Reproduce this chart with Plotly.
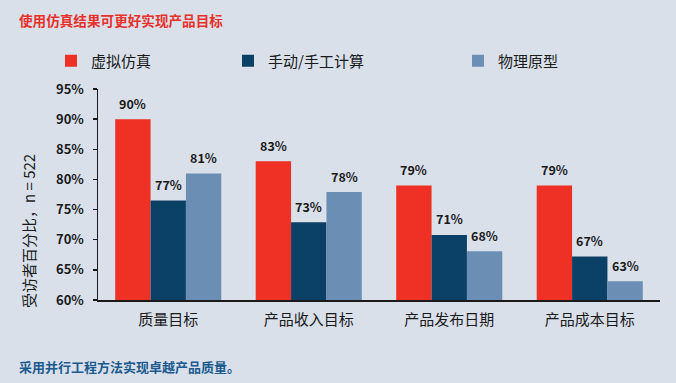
import plotly.graph_objects as go

categories = ["质量目标", "产品收入目标", "产品发布日期", "产品成本目标"]
series_names = ["虚拟仿真", "手动/手工计算", "物理原型"]
virtual_sim = [90, 83, 79, 79]
manual_calc = [76.5, 72.9, 70.8, 67.2]
physical_proto = [81, 77.9, 68.1, 63.1]
virtual_labels = ["90%", "83%", "79%", "79%"]
manual_labels = ["77%", "73%", "71%", "67%"]
physical_labels = ["81%", "78%", "68%", "63%"]
y_ticks = [60, 65, 70, 75, 80, 85, 90, 95]
y_tick_text = ["60%", "65%", "70%", "75%", "80%", "85%", "90%", "95%"]

colors = ["#ee3124", "#0c4167", "#6b8eb5"]
bg = "#d9e0ea"
font_family = "Noto Sans CJK SC"

W, H = 676, 383
ML, MR, MT, MB = 98, 16, 89, 83
PW = W - ML - MR
PH = H - MT - MB


def px_x(px):
    return (px - ML) / PW


def px_y(py):
    return (H - MB - py) / PH


series_values = [virtual_sim, manual_calc, physical_proto]
series_labels = [virtual_labels, manual_labels, physical_labels]

fig = go.Figure()
legend_ids = ["legend", "legend2", "legend3"]
for i, (name, vals) in enumerate(zip(series_names, series_values)):
    fig.add_trace(go.Bar(
        x=categories, y=vals, name=name,
        marker=dict(color=colors[i], line=dict(width=0)),
        legend=legend_ids[i],
        hoverinfo="skip",
    ))

annotations = []
bar_w = PW / len(categories) * 0.755 / 3
for i, labels in enumerate(series_labels):
    for c, v, t in zip(categories, series_values[i], labels):
        annotations.append(dict(
            x=c, y=v, xref="x", yref="y", text=t, showarrow=False,
            xshift=(i - 1) * bar_w, yshift=16, yanchor="middle",
            font=dict(family=font_family, size=12.5, color="#1a1a1a", weight="bold"),
        ))

annotations.append(dict(
    x=px_x(17), y=px_y(20), xref="paper", yref="paper", xanchor="left", yanchor="middle",
    text="<b>使用仿真结果可更好实现产品目标</b>", showarrow=False,
    font=dict(family=font_family, size=13.6, color="#e8302a"),
))
annotations.append(dict(
    x=px_x(17), y=px_y(366), xref="paper", yref="paper", xanchor="left", yanchor="middle",
    text="<b>采用并行工程方法实现卓越产品质量。</b>", showarrow=False,
    font=dict(family=font_family, size=13, color="#1b5a8e"),
))
annotations.append(dict(
    x=px_x(28), y=px_y(231), xref="paper", yref="paper", xanchor="center", yanchor="middle",
    text="受访者百分比，n = 522", textangle=-90, showarrow=False,
    font=dict(family=font_family, size=15, color="#1a1a1a"),
))

legend_text_x = [91, 268, 498]
legend_common = dict(
    orientation="h", yanchor="middle", xanchor="left", bgcolor="rgba(0,0,0,0)",
    font=dict(family=font_family, size=15, color="#1a1a1a"), itemwidth=30,
)
layout_legends = {}
for i, lid in enumerate(legend_ids):
    layout_legends[lid] = dict(legend_common, x=px_x(legend_text_x[i] - 40), y=px_y(61))

fig.update_layout(
    width=W, height=H,
    margin=dict(l=ML, r=MR, t=MT, b=MB, pad=0),
    paper_bgcolor=bg, plot_bgcolor=bg,
    barmode="group", bargap=0.245, bargroupgap=0,
    showlegend=True,
    font=dict(family=font_family, color="#1a1a1a"),
    xaxis=dict(
        showline=True, linecolor="#1a1a1a", linewidth=1.5, ticks="",
        tickfont=dict(family=font_family, size=15, color="#1a1a1a"),
        ticklabelstandoff=5, showgrid=False, zeroline=False,
    ),
    yaxis=dict(
        range=[60, 95], tickvals=y_ticks, ticktext=y_tick_text,
        showline=True, linecolor="#1a1a1a", linewidth=1.5,
        ticks="outside", ticklen=4, tickcolor="#1a1a1a", tickwidth=1.5,
        tickfont=dict(family=font_family, size=13, color="#1a1a1a", weight="bold"),
        ticklabelstandoff=6, showgrid=False, zeroline=False,
    ),
    annotations=annotations,
    **layout_legends,
)

fig.write_html(
    "out.html",
    config={"displayModeBar": False, "staticPlot": True},
    post_script="document.body.style.margin='0';document.body.style.padding='0';"
                "document.body.style.overflow='hidden';",
)
